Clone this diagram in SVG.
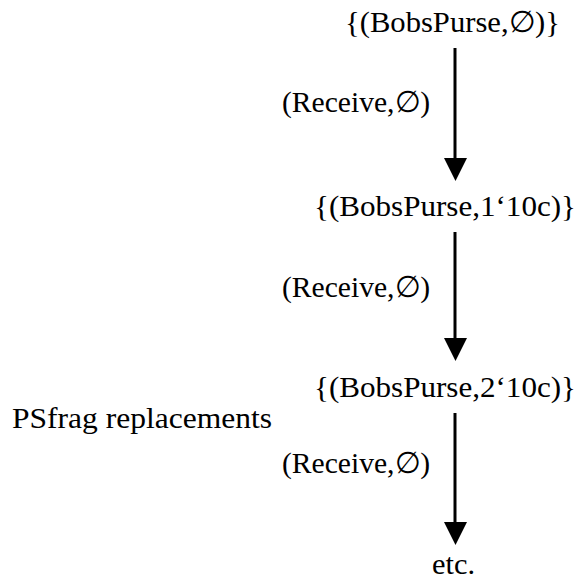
<svg xmlns="http://www.w3.org/2000/svg" width="581" height="581" viewBox="0 0 581 581">
<defs>
<style>
text{font-family:"Liberation Serif","Times New Roman",serif;font-size:30px;fill:#000}
.c line{stroke:#000;stroke-width:3}
</style>
</defs>
<rect width="581" height="581" fill="#fff"/>
<g id="n1"><text x="345" y="32" textLength="215" lengthAdjust="spacingAndGlyphs">{(BobsPurse,∅)}</text></g>
<g id="n2"><text x="314" y="216" textLength="262" lengthAdjust="spacingAndGlyphs">{(BobsPurse,1‘10c)}</text></g>
<g id="n3"><text x="314" y="397" textLength="262" lengthAdjust="spacingAndGlyphs">{(BobsPurse,2‘10c)}</text></g>
<g id="n4"><text x="432" y="574" textLength="43" lengthAdjust="spacingAndGlyphs">etc.</text></g>
<g id="lbl"><text x="12" y="428" textLength="260" lengthAdjust="spacingAndGlyphs">PSfrag replacements</text></g>
<g class="c" id="connectors">
<line x1="455" y1="48" x2="455" y2="160"/>
<path d="M444,158 L467,158 L455.5,181 Z"/>
<line x1="455" y1="232" x2="455" y2="340"/>
<path d="M444,338 L467,338 L455.5,361 Z"/>
<line x1="455" y1="413" x2="455" y2="524"/>
<path d="M444,522 L467,522 L455.5,545 Z"/>
<text x="282" y="112" textLength="148" lengthAdjust="spacingAndGlyphs">(Receive,∅)</text>
<text x="282" y="297" textLength="148" lengthAdjust="spacingAndGlyphs">(Receive,∅)</text>
<text x="282" y="473" textLength="148" lengthAdjust="spacingAndGlyphs">(Receive,∅)</text>
</g>
</svg>
